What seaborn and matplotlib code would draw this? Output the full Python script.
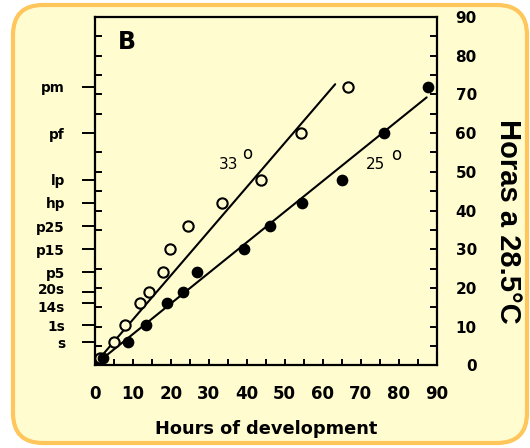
import numpy as np
import pandas as pd
import seaborn as sns
import matplotlib.pyplot as plt
from matplotlib.patches import FancyBboxPatch
from matplotlib.transforms import IdentityTransform, ScaledTranslation
from matplotlib.ticker import FixedLocator, MultipleLocator

# ---------------- data ----------------
stage_labels = ["s", "1s", "14s", "20s", "p5", "p15", "p25", "hp", "lp", "pf", "pm"]
stage_hours  = [6, 10.33, 16, 19, 24, 30, 36, 42, 48, 60, 72]

# 33 C embryos (open circles)
hours_33 = [1.2, 5.1, 7.9, 11.9, 14.2, 17.8, 19.8, 24.6, 33.4, 43.7, 54.3, 66.6]
equiv_33 = [2, 6, 10.33, 16, 19, 24, 30, 36, 42, 48, 60, 72]
# 25 C embryos (filled circles)
hours_25 = [2.1, 8.6, 13.4, 19.1, 23.3, 26.8, 39.4, 46.1, 54.5, 65.0, 76.2, 87.7]
equiv_25 = [2, 6, 10.33, 16, 19, 24, 30, 36, 42, 48, 60, 72]

# fitted lines (end points)
fit_33_x = [0.3, 63.3]
fit_33_y = [0.8, 72.6]
fit_25_x = [0.5, 87.4]
fit_25_y = [0.6, 69.2]

df33 = pd.DataFrame({"hours": hours_33, "equiv": equiv_33})
df25 = pd.DataFrame({"hours": hours_25, "equiv": equiv_25})

# ---------------- style ----------------
BG     = "#FFFDD0"
BORDER = "#FFC65C"
sns.set_style("ticks")
plt.rcParams["font.family"] = ["DejaVu Sans"]
for key in ["text.color", "axes.labelcolor", "xtick.color", "ytick.color"]:
    plt.rcParams[key] = "black"

fig = plt.figure(figsize=(5.3, 4.48), dpi=100, facecolor="white")
frame = FancyBboxPatch((13, 5), 514, 438, boxstyle="round,pad=0,rounding_size=30",
                       transform=IdentityTransform(), facecolor=BG,
                       edgecolor=BORDER, linewidth=3, zorder=-1)
fig.add_artist(frame)

ax = fig.add_axes([0.1792, 0.1842, 0.6444, 0.7783])
ax.set_facecolor("none")

sns.lineplot(x=fit_33_x, y=fit_33_y, color="black", lw=1.5, ax=ax, zorder=2)
sns.lineplot(x=fit_25_x, y=fit_25_y, color="black", lw=1.5, ax=ax, zorder=2)
sns.scatterplot(data=df33, x="hours", y="equiv", marker="o", s=55,
                facecolor=BG, edgecolor="black", linewidth=1.5, ax=ax, zorder=3)
sns.scatterplot(data=df25, x="hours", y="equiv", marker="o", s=55,
                color="black", edgecolor="black", linewidth=1, ax=ax, zorder=3)

ax.set_xlim(0, 90)
ax.set_ylim(0, 90)

for side in ["left", "right", "top", "bottom"]:
    ax.spines[side].set_linewidth(1.6)
    ax.spines[side].set_color("black")

# bottom axis
ax.xaxis.set_major_locator(MultipleLocator(10))
ax.xaxis.set_minor_locator(MultipleLocator(5))
ax.tick_params(axis="x", which="both", direction="in", length=4, width=1.4,
               pad=14, labelsize=12)
for lab in ax.get_xticklabels():
    lab.set_fontweight("bold")

# left axis: developmental stages
ax.yaxis.set_major_locator(FixedLocator(stage_hours))
ax.set_yticklabels(stage_labels)
ax.yaxis.set_minor_locator(MultipleLocator(5))
ax.tick_params(axis="y", which="major", direction="out", length=9.5, width=1.4,
               pad=12, labelsize=9.8)
ax.tick_params(axis="y", which="minor", direction="in", length=5, width=1.4)
for lab in ax.get_yticklabels():
    lab.set_fontweight("bold")
    # the two crowded somite labels are nudged apart, as in the original
    if lab.get_text() == "20s":
        lab.set_transform(lab.get_transform() + ScaledTranslation(0, 2.2 / 72, fig.dpi_scale_trans))
    elif lab.get_text() == "14s":
        lab.set_transform(lab.get_transform() + ScaledTranslation(0, -2.2 / 72, fig.dpi_scale_trans))

ax.set_xlabel("Hours of development", fontsize=12.8, fontweight="bold", labelpad=12)
ax.set_ylabel("")

# right axis: hours at 28.5 C
ax2 = ax.twinx()
ax2.set_ylim(0, 90)
ax2.yaxis.set_major_locator(MultipleLocator(10))
ax2.yaxis.set_minor_locator(MultipleLocator(5))
ax2.tick_params(axis="y", which="both", direction="in", length=5, width=1.4,
                pad=29, labelsize=11)
for lab in ax2.get_yticklabels():
    lab.set_fontweight("bold")
    lab.set_horizontalalignment("right")
for side in ["left", "right", "top", "bottom"]:
    ax2.spines[side].set_visible(False)

# annotations
ax.text(0.094, 0.929, "B", transform=ax.transAxes, ha="center", va="center",
        fontsize=17, fontweight="bold")
ax.text(35.1, 51.8, "33", ha="center", va="center", fontsize=11)
ax.text(40.2, 54.6, "o", ha="center", va="center", fontsize=12)
ax.text(73.8, 51.8, "25", ha="center", va="center", fontsize=11)
ax.text(79.3, 54.2, "o", ha="center", va="center", fontsize=12)

fig.text(508 / 530, 1 - 221 / 448, "Horas a 28.5°C", rotation=270,
         ha="center", va="center", fontsize=21, fontweight="bold",
         family=["Liberation Sans", "DejaVu Sans"])

fig.savefig("out.png", dpi=100, facecolor="white")
